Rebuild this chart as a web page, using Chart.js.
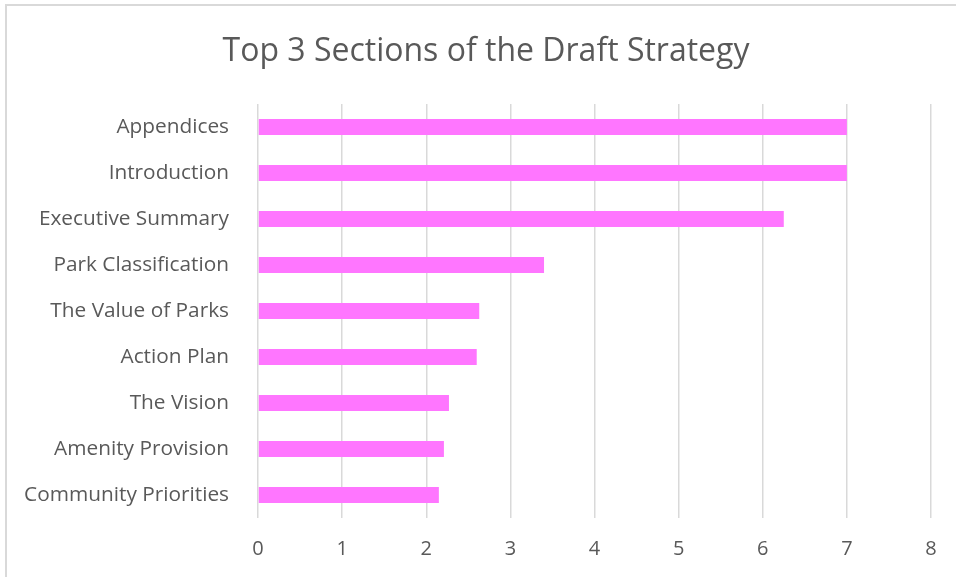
<!DOCTYPE html>
<html>
<head>
<meta charset="utf-8">
<script src="https://cdn.jsdelivr.net/npm/chart.js@4/dist/chart.umd.min.js"></script>
<style>
  html, body { margin: 0; padding: 0; background: #ffffff; }
  #wrap { position: relative; width: 956px; height: 577px; }
</style>
</head>
<body>
<div id="wrap"><canvas id="chart" width="956" height="577"></canvas></div>
<script>
// Sections of the draft strategy, top to bottom
const categories = [
  'Appendices',
  'Introduction',
  'Executive Summary',
  'Park Classification',
  'The Value of Parks',
  'Action Plan',
  'The Vision',
  'Amenity Provision',
  'Community Priorities'
];
// Score for each section
const scores = [7, 7, 6.25, 3.4, 2.63, 2.6, 2.27, 2.21, 2.15];
// Value axis tick range
const axisMin = 0;
const axisMax = 8;
const axisStep = 1;
const chartTitle = 'Top 3 Sections of the Draft Strategy';

const fontFamily = "'Open Sans', 'Liberation Sans', sans-serif";
const textColor = '#595959';
const gridColor = '#d9d9d9';

// Light frame around the chart, plus the centred title
const framePlugin = {
  id: 'frame',
  beforeDraw(chart) {
    const ctx = chart.ctx;
    ctx.save();
    ctx.fillStyle = '#ffffff';
    ctx.fillRect(0, 0, chart.width, chart.height);
    ctx.strokeStyle = gridColor;
    ctx.lineWidth = 2;
    ctx.beginPath();
    ctx.moveTo(6, chart.height);
    ctx.lineTo(6, 5);
    ctx.lineTo(chart.width, 5);
    ctx.stroke();
    ctx.restore();
  },
  afterDraw(chart) {
    const ctx = chart.ctx;
    ctx.save();
    ctx.fillStyle = textColor;
    ctx.font = "32px " + fontFamily;
    ctx.textAlign = 'center';
    ctx.textBaseline = 'middle';
    ctx.fillText(chartTitle, 486, 52);
    ctx.restore();
  }
};

new Chart(document.getElementById('chart'), {
  type: 'bar',
  data: {
    labels: categories,
    datasets: [{
      data: scores,
      backgroundColor: '#ff76ff',
      borderWidth: 0,
      barPercentage: 0.35,
      categoryPercentage: 1
    }]
  },
  plugins: [framePlugin],
  options: {
    indexAxis: 'y',
    responsive: false,
    animation: false,
    layout: { padding: { left: 0, right: 25, top: 104, bottom: 0 } },
    plugins: {
      legend: { display: false },
      tooltip: { enabled: false },
      title: { display: false }
    },
    scales: {
      x: {
        min: axisMin,
        max: axisMax,
        ticks: {
          stepSize: axisStep,
          color: textColor,
          font: { family: fontFamily, size: 20 },
          padding: 19
        },
        grid: { color: gridColor, lineWidth: 1.5, drawTicks: false },
        border: { display: false },
        afterFit(scale) { scale.height = 59; }
      },
      y: {
        ticks: {
          color: textColor,
          font: { family: fontFamily, size: 20.8 },
          padding: 29
        },
        grid: { display: false, drawTicks: false },
        border: { display: false },
        afterFit(scale) { scale.width = 258; }
      }
    }
  }
});
</script>
</body>
</html>
